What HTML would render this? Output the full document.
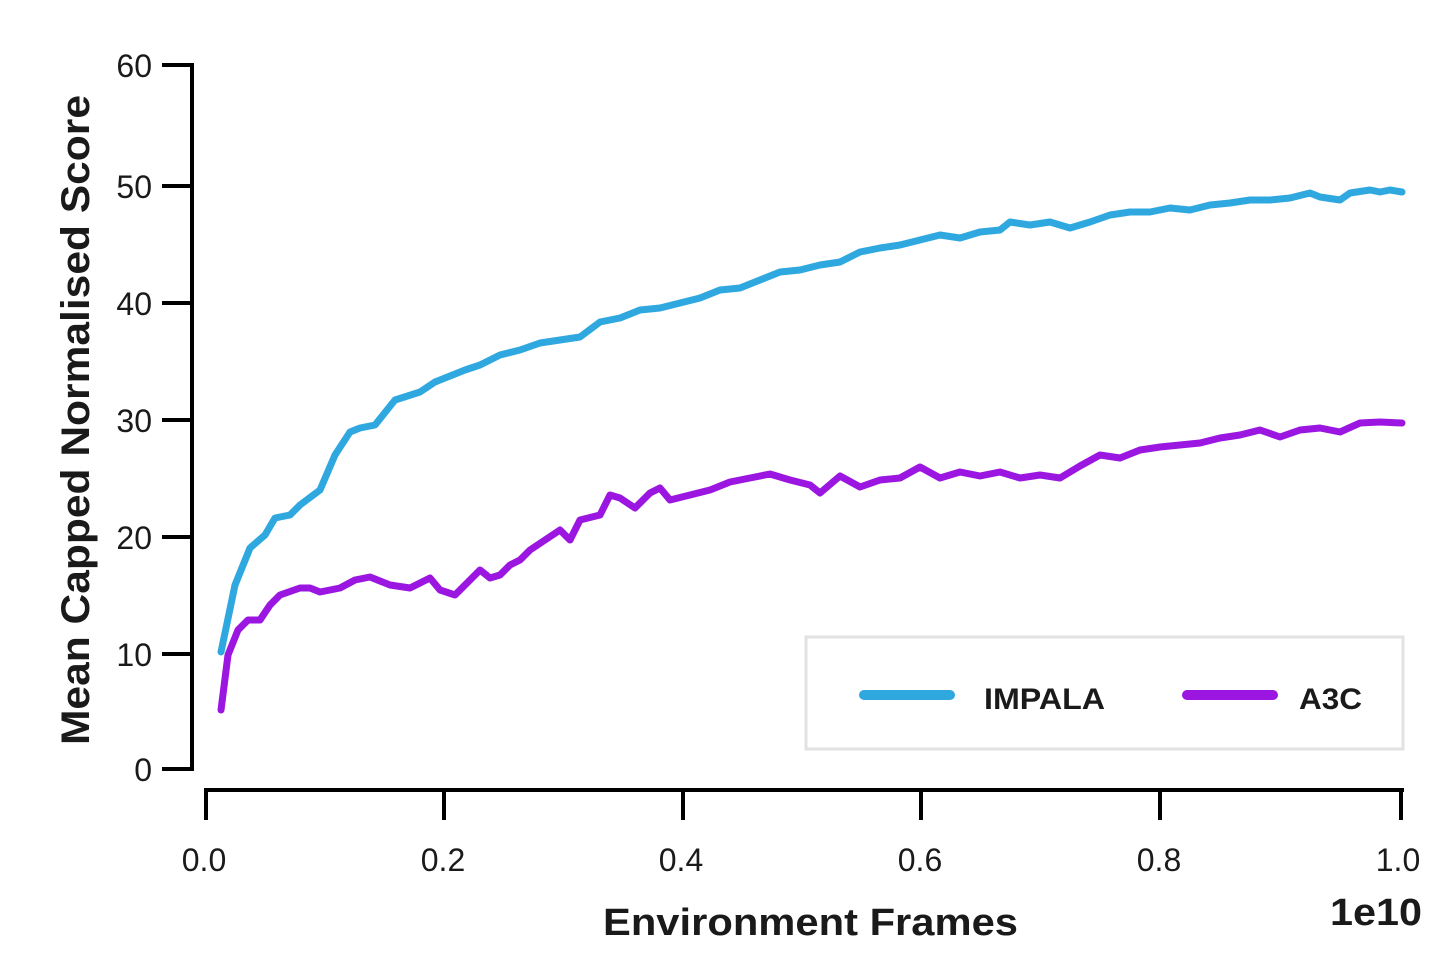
<!DOCTYPE html>
<html><head><meta charset="utf-8"><style>
body{margin:0;background:#fff}
svg{display:block}
text{font-family:"Liberation Sans",sans-serif;fill:#1a1a1a}
</style></head><body>
<svg width="1440" height="953" viewBox="0 0 1440 953">
<g stroke="#000" stroke-width="4" fill="none">
<line x1="192" y1="63" x2="192" y2="771"/>
<line x1="162" y1="65" x2="192" y2="65"/>
<line x1="162" y1="186" x2="192" y2="186"/>
<line x1="162" y1="303" x2="192" y2="303"/>
<line x1="162" y1="420" x2="192" y2="420"/>
<line x1="162" y1="537" x2="192" y2="537"/>
<line x1="162" y1="654" x2="192" y2="654"/>
<line x1="162" y1="769" x2="192" y2="769"/>
<line x1="204" y1="790" x2="1404" y2="790"/>
<line x1="206" y1="790" x2="206" y2="820"/>
<line x1="444" y1="790" x2="444" y2="820"/>
<line x1="683" y1="790" x2="683" y2="820"/>
<line x1="921" y1="790" x2="921" y2="820"/>
<line x1="1160" y1="790" x2="1160" y2="820"/>
<line x1="1401" y1="790" x2="1401" y2="820"/>
</g>
<g font-size="32" text-anchor="end">
<text x="152" y="77">60</text><text x="152" y="198">50</text><text x="152" y="315">40</text>
<text x="152" y="432">30</text><text x="152" y="549">20</text><text x="152" y="666">10</text><text x="152" y="781">0</text>
</g>
<g font-size="32" text-anchor="middle">
<text x="204" y="871">0.0</text><text x="443" y="871">0.2</text><text x="681" y="871">0.4</text>
<text x="920" y="871">0.6</text><text x="1159" y="871">0.8</text><text x="1398" y="871">1.0</text>
</g>
<text x="603" y="935" font-size="38" font-weight="bold" textLength="415" lengthAdjust="spacingAndGlyphs">Environment Frames</text>
<text x="1330" y="925" font-size="38" font-weight="bold" textLength="92" lengthAdjust="spacingAndGlyphs">1e10</text>
<text transform="translate(89,745) rotate(-90)" font-size="40" font-weight="bold" textLength="650" lengthAdjust="spacingAndGlyphs">Mean Capped Normalised Score</text>
<polyline fill="none" stroke="#2fa8e0" stroke-width="7" stroke-linejoin="round" stroke-linecap="round" points="221,652 235,585 250,548 265,535 275,518 290,515 300,505 320,490 335,455 350,432 360,428 375,425 395,400 420,392 435,382 445,378 465,370 480,365 500,355 520,350 540,343 560,340 580,337 600,322 620,318 640,310 660,308 680,303 700,298 720,290 740,288 760,280 780,272 800,270 820,265 840,262 860,252 880,248 900,245 920,240 940,235 960,238 980,232 1000,230 1010,222 1030,225 1050,222 1070,228 1090,222 1110,215 1130,212 1150,212 1170,208 1190,210 1210,205 1230,203 1250,200 1270,200 1290,198 1310,193 1320,197 1340,200 1350,193 1370,190 1380,192 1390,190 1402,192"/>
<polyline fill="none" stroke="#9b16e0" stroke-width="7" stroke-linejoin="round" stroke-linecap="round" points="221,710 228,655 238,630 248,620 260,620 270,605 280,595 300,588 310,588 320,592 340,588 355,580 370,577 390,585 410,588 430,578 440,590 455,595 465,585 480,570 490,578 500,575 510,565 520,560 530,550 545,540 560,530 570,540 580,520 600,515 610,495 620,498 635,508 650,493 660,488 670,500 690,495 710,490 730,482 750,478 770,474 790,480 810,485 820,493 840,476 860,487 880,480 900,478 920,467 940,478 960,472 980,476 1000,472 1020,478 1040,475 1060,478 1080,466 1100,455 1120,458 1140,450 1160,447 1180,445 1200,443 1220,438 1240,435 1260,430 1280,437 1300,430 1320,428 1340,432 1360,423 1380,422 1402,423"/>
<rect x="806" y="637" width="597" height="112" fill="#fff" stroke="#e2e2e2" stroke-width="3"/>
<line x1="864" y1="695" x2="950" y2="695" stroke="#2fa8e0" stroke-width="10" stroke-linecap="round"/>
<text x="984" y="709" font-size="30" font-weight="bold" textLength="121" lengthAdjust="spacingAndGlyphs">IMPALA</text>
<line x1="1187" y1="695" x2="1273" y2="695" stroke="#9b16e0" stroke-width="10" stroke-linecap="round"/>
<text x="1299" y="709" font-size="30" font-weight="bold" textLength="63" lengthAdjust="spacingAndGlyphs">A3C</text>
</svg>
</body></html>
